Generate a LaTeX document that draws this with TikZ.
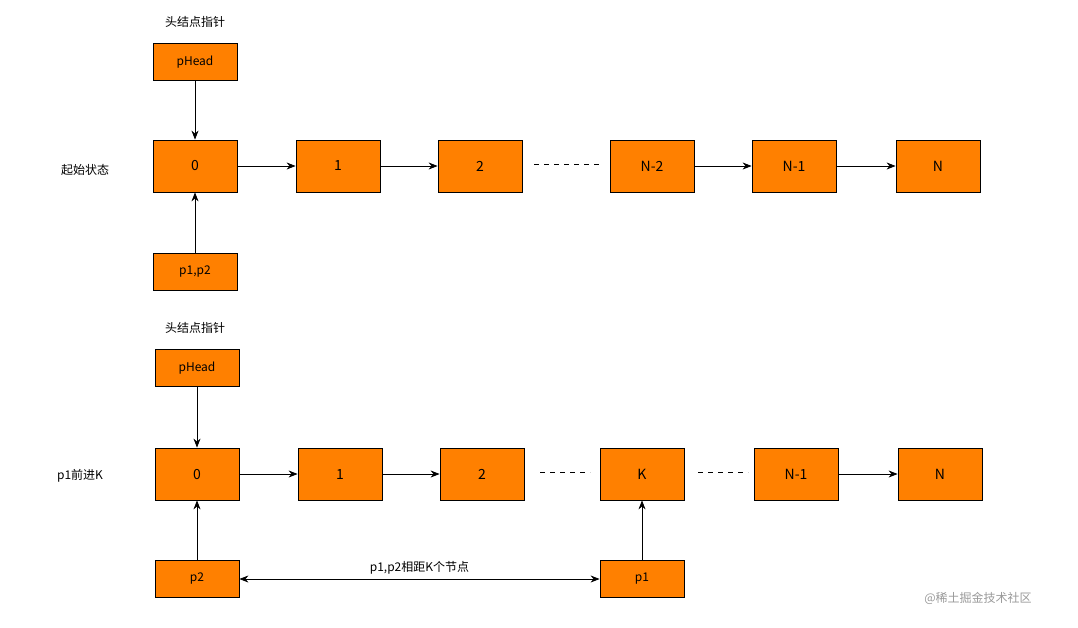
\documentclass[tikz,border=0pt]{standalone}
\usepackage{fontspec}
\setmainfont{Noto Sans CJK SC}
\usetikzlibrary{positioning,arrows.meta}
\definecolor{boxorange}{HTML}{FF8000}
\begin{document}
\begin{tikzpicture}[x=1pt,y=-1pt,
    box/.style={draw,fill=boxorange,thick,minimum width=84pt,minimum height=52pt,font=\fontsize{14}{16}\selectfont},
    ptr/.style={box,minimum height=37pt,font=\fontsize{12}{14}\selectfont},
    lbl/.style={font=\fontsize{12}{14}\selectfont},
    link/.style={-{Stealth[length=9pt,width=7pt]},thick},
    gap/.style={thick,dash pattern=on 5pt off 5pt}
  ]
  \useasboundingbox (0,0) rectangle (1078,627);
  % start state
  \node[lbl] at (195,22) {头结点指针};
  \node[ptr] (h1) at (195,62) {pHead};
  \node[lbl] at (85,170) {起始状态};
  \foreach \n/\t/\x in {a0/0/195,a1/1/338,a2/2/480,an2/N-2/652,an1/N-1/794,an/N/938}
    \node[box] (\n) at (\x,166) {\t};
  \node[ptr] (p12) at (195,272) {p1,p2};
  \draw[link] (h1) -- (a0);
  \draw[link] (p12) -- (a0);
  \draw[link] (a0) -- (a1);
  \draw[link] (a1) -- (a2);
  \draw[gap] (a2.east) ++(12,-2) -- ++(66,0);
  \draw[link] (an2) -- (an1);
  \draw[link] (an1) -- (an);
  % p1 advanced K
  \node[lbl] at (195,328) {头结点指针};
  \node[ptr] (h2) at (197,368) {pHead};
  \node[lbl] at (80,476) {p1前进K};
  \foreach \n/\t/\x in {b0/0/197,b1/1/340,b2/2/482,bk/K/642,bn1/N-1/796,bn/N/940}
    \node[box] (\n) at (\x,474) {\t};
  \node[ptr] (p2) at (197,579) {p2};
  \node[ptr] (p1) at (642,579) {p1};
  \draw[link] (h2) -- (b0);
  \draw[link] (p2) -- (b0);
  \draw[link] (p1) -- (bk);
  \draw[link] (b0) -- (b1);
  \draw[link] (b1) -- (b2);
  \draw[gap] (b2.east) ++(16,-2) -- ++(50,0);
  \draw[gap] (bk.east) ++(14,-2) -- ++(50,0);
  \draw[link] (bn1) -- (bn);
  \draw[{Stealth[length=9pt,width=7pt]}-{Stealth[length=9pt,width=7pt]},thick] (p2) -- node[lbl,above=1pt] {p1,p2相距K个节点} (p1);
  \node[lbl,text=black!40] at (978,598) {@稀土掘金技术社区};
\end{tikzpicture}
\end{document}
